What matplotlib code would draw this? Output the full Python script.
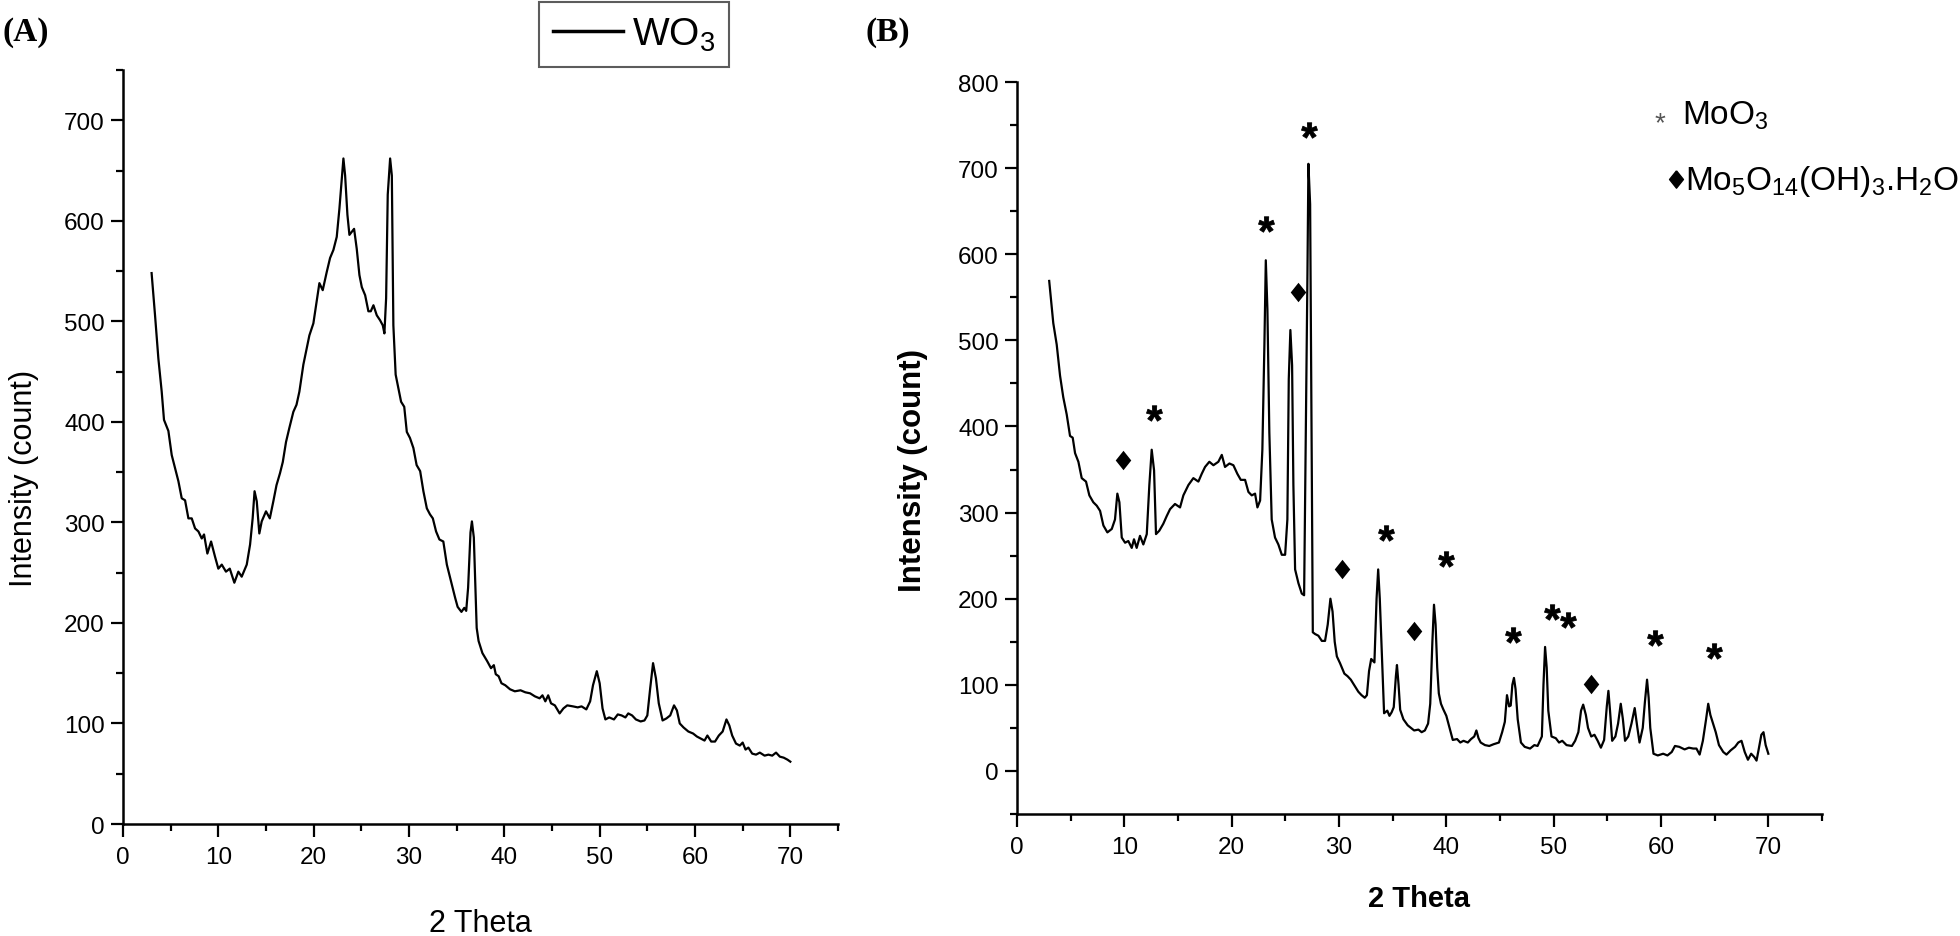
import numpy as np
import matplotlib
matplotlib.use("Agg")
import matplotlib.pyplot as plt
from matplotlib.ticker import MultipleLocator
from matplotlib.textpath import TextPath
from matplotlib.path import Path
from matplotlib.font_manager import FontProperties

plt.rcParams['font.family'] = ['Liberation Sans', 'DejaVu Sans']
plt.rcParams['mathtext.default'] = 'regular'

# (A) WO3 pattern
wo3_theta = [3.0, 3.36, 3.71, 4.06, 4.30, 4.76, 5.11, 5.46, 5.81, 6.16, 6.51, 6.86, 7.21, 7.56,
             7.91, 8.26, 8.50, 8.85, 9.24, 9.65, 10.0, 10.36, 10.8, 11.2, 11.68, 12.1, 12.45,
             12.98, 13.33, 13.6, 13.8, 14.03, 14.3, 14.55, 15.0, 15.4, 15.77, 16.1, 16.47, 16.76,
             17.1, 17.45, 17.87, 18.2, 18.5, 18.92, 19.27, 19.55, 19.97, 20.25, 20.6, 20.95,
             21.37, 21.72, 22.07, 22.42, 22.7, 22.95, 23.12, 23.3, 23.54, 23.75, 24.0, 24.24,
             24.52, 24.8, 25.05, 25.4, 25.74, 25.99, 26.27, 26.62, 26.97, 27.25, 27.42, 27.6,
             27.77, 28.02, 28.2, 28.36, 28.6, 28.89, 29.17, 29.5, 29.77, 30.1, 30.46, 30.8,
             31.17, 31.51, 31.87, 32.2, 32.5, 32.84, 33.19, 33.6, 33.97, 34.49, 34.84, 35.1,
             35.5, 35.8, 36.0, 36.2, 36.45, 36.6, 36.8, 36.95, 37.1, 37.3, 37.7, 38.2, 38.6,
             38.9, 39.1, 39.4, 39.7, 40.1, 40.6, 41.1, 41.7, 42.2, 42.7, 43.2, 43.7, 44.0, 44.3,
             44.6, 44.9, 45.3, 45.8, 46.2, 46.6, 47.2, 47.7, 48.1, 48.6, 49.0, 49.3, 49.7, 50.0,
             50.3, 50.6, 51.0, 51.5, 51.9, 52.3, 52.7, 53.0, 53.4, 53.8, 54.3, 54.7, 55.0, 55.3,
             55.6, 55.9, 56.2, 56.6, 57.0, 57.4, 57.8, 58.1, 58.4, 58.8, 59.3, 59.8, 60.2, 60.6,
             61.0, 61.3, 61.7, 62.1, 62.5, 62.9, 63.3, 63.6, 63.9, 64.3, 64.7, 65.0, 65.3, 65.6,
             66.0, 66.4, 66.8, 67.3, 67.7, 68.1, 68.5, 68.9, 69.3, 69.7, 70.0]
wo3_counts = [548, 506, 463, 430, 402, 391, 367, 354, 341, 324, 322, 304, 304, 294,
              291, 284, 288, 269, 281, 266, 254, 258, 251, 254, 240, 251, 246,
              258, 278, 304, 331, 321, 289, 301, 311, 304, 321, 337, 349, 360,
              380, 394, 410, 417, 430, 457, 473, 486, 498, 516, 538, 531,
              549, 563, 571, 584, 612, 642, 662, 645, 606, 586, 589, 592,
              572, 546, 534, 526, 510, 510, 516, 506, 501, 496, 488, 523,
              626, 662, 645, 496, 447, 433, 420, 415, 390, 384, 374, 357,
              351, 331, 314, 308, 304, 291, 283, 281, 258, 238, 225, 216,
              211, 215, 212, 235, 290, 301, 285, 240, 195, 182, 170, 162, 155,
              158, 149, 147, 140, 138, 134, 132, 133, 131, 130, 127, 125, 128, 122,
              128, 120, 118, 110, 115, 118, 117, 116, 117, 114, 122, 138, 152, 140,
              115, 104, 106, 104, 109, 108, 106, 110, 108, 104, 102, 103, 108, 135,
              160, 145, 120, 103, 105, 108, 118, 113, 100, 96, 92, 90, 87, 85,
              83, 88, 82, 82, 88, 92, 104, 98, 88, 80, 78, 81, 74, 76,
              70, 69, 71, 68, 69, 68, 71, 67, 66, 64, 62]

# (B) MoO3 pattern
moo3_theta = [3.0, 3.38, 3.70, 4.01, 4.31, 4.63, 4.94, 5.19, 5.41, 5.72, 6.03, 6.43, 6.74, 7.11,
              7.43, 7.74, 8.05, 8.42, 8.83, 9.13, 9.35, 9.54, 9.76, 10.07, 10.37, 10.69, 10.9,
              11.15, 11.46, 11.77, 12.09, 12.33, 12.55, 12.77, 12.95, 13.26, 13.63, 13.95, 14.26,
              14.72, 15.19, 15.5, 15.97, 16.43, 16.9, 17.21, 17.52, 17.92, 18.3, 18.76, 19.08,
              19.38, 19.79, 20.16, 20.53, 20.85, 21.25, 21.56, 21.87, 22.18, 22.4, 22.65, 22.86,
              23.05, 23.18, 23.33, 23.51, 23.73, 24.04, 24.35, 24.67, 24.98, 25.19, 25.32, 25.47,
              25.63, 25.75, 25.91, 26.22, 26.53, 26.75, 26.93, 27.06, 27.15, 27.31, 27.43, 27.56,
              27.77, 28.08, 28.4, 28.7, 28.95, 29.2, 29.4, 29.6, 29.8, 30.1, 30.5, 30.8, 31.1,
              31.5, 31.8, 32.1, 32.4, 32.6, 32.8, 33.0, 33.3, 33.5, 33.65, 33.8, 33.95, 34.2,
              34.5, 34.7, 34.9, 35.1, 35.3, 35.4, 35.55, 35.7, 36.0, 36.4, 36.7, 37.0, 37.4,
              37.7, 38.0, 38.3, 38.5, 38.7, 38.85, 39.0, 39.15, 39.3, 39.5, 39.7, 40.0, 40.3,
              40.6, 41.0, 41.3, 41.6, 42.0, 42.3, 42.6, 42.8, 43.0, 43.2, 43.6, 44.0, 44.4,
              44.9, 45.2, 45.45, 45.65, 45.85, 46.0, 46.15, 46.3, 46.45, 46.65, 46.95, 47.3,
              47.8, 48.2, 48.5, 48.9, 49.05, 49.2, 49.35, 49.5, 49.8, 50.2, 50.5, 50.8, 51.2,
              51.7, 52.0, 52.3, 52.55, 52.75, 53.0, 53.2, 53.5, 53.8, 54.1, 54.4, 54.7, 54.95,
              55.1, 55.25, 55.45, 55.75, 56.0, 56.25, 56.45, 56.65, 56.95, 57.25, 57.55, 57.8,
              58.0, 58.3, 58.5, 58.7, 58.85, 59.0, 59.3, 59.7, 60.2, 60.6, 61.0, 61.3, 61.7,
              62.2, 62.6, 63.0, 63.3, 63.6, 63.9, 64.2, 64.4, 64.6, 64.85, 65.1, 65.4, 65.8,
              66.1, 66.5, 66.9, 67.2, 67.5, 67.8, 68.1, 68.4, 68.7, 68.9, 69.1, 69.35, 69.55,
              69.75, 70.0]
moo3_counts = [569, 520, 495, 459, 434, 414, 389, 387, 369, 359, 340, 336, 320, 312,
               308, 302, 285, 277, 281, 292, 322, 312, 271, 265, 267, 259, 269,
               259, 273, 263, 275, 332, 373, 349, 275, 279, 287, 296, 304,
               310, 306, 320, 332, 340, 336, 345, 353, 359, 355, 359, 367,
               353, 357, 355, 345, 338, 338, 324, 320, 322, 306, 314, 373,
               495, 593, 536, 393, 292, 271, 263, 251, 251, 292, 455, 512,
               471, 332, 234, 218, 206, 204, 414, 577, 705, 658, 414, 161,
               159, 157, 151, 151, 170, 200, 185, 150, 133, 125, 113, 110, 106,
               98, 92, 88, 85, 88, 116, 130, 126, 200, 234, 200, 150, 67,
               70, 64, 68, 74, 110, 123, 100, 71, 60, 53, 50, 47, 48,
               45, 47, 55, 78, 150, 193, 170, 120, 90, 78, 72, 64, 50,
               36, 37, 33, 35, 33, 37, 40, 47, 38, 33, 30, 29, 31,
               33, 45, 57, 88, 75, 76, 100, 108, 95, 60, 33, 28,
               26, 30, 29, 40, 100, 144, 120, 70, 40, 38, 33, 35, 30,
               29, 35, 45, 70, 77, 65, 50, 40, 42, 35, 27, 36, 75,
               93, 70, 35, 40, 55, 78, 60, 35, 40, 55, 73, 50,
               33, 50, 80, 106, 85, 50, 20, 18, 20, 18, 22, 29, 28,
               25, 27, 26, 26, 19, 35, 60, 78, 65, 55, 45, 30, 22,
               19, 24, 28, 33, 35, 22, 13, 20, 16, 12, 25, 42, 45,
               30, 20]

# phase markers on (B)
star_theta = [12.8, 23.2, 27.2, 34.4, 40.0, 46.2, 49.8, 51.3, 59.4, 64.9]
star_counts = [416, 635, 744, 276, 246, 158, 185, 175, 154, 139]
diamond_theta = [9.9, 26.2, 30.3, 37.0, 53.5]
diamond_counts = [361, 556, 234, 163, 101]

W, H = 1960, 937
fig = plt.figure(figsize=(W / 100, H / 100), dpi=100)

# asterisk marker built from a font glyph, centred on its own ink
tp = TextPath((0, 0), '*', prop=FontProperties(family='Liberation Sans', weight='bold'))
v = tp.vertices.copy()
ink = tp.codes != Path.CLOSEPOLY
ctr = (v[ink].min(axis=0) + v[ink].max(axis=0)) / 2
v[~ink] = ctr
star_marker = Path(v - ctr, tp.codes)
diamond_marker = [(0, 1), (0.8, 0), (0, -1), (-0.8, 0), (0, 1)]


def style_axes(ax):
    for s in ['top', 'right']:
        ax.spines[s].set_visible(False)
    for s in ['left', 'bottom']:
        ax.spines[s].set_linewidth(1.8)
    ax.xaxis.set_major_locator(MultipleLocator(10))
    ax.xaxis.set_minor_locator(MultipleLocator(5))
    ax.tick_params(which='both', direction='out', width=1.6, labelsize=17.5)
    ax.tick_params(which='major', length=9)
    ax.tick_params(which='minor', length=5)
    ax.tick_params(axis='x', pad=7)
    ax.tick_params(axis='y', pad=4)


# ---- panel A
axA = fig.add_axes([123 / W, 1 - 825 / H, (838 - 123) / W, (825 - 71) / H])
lineA, = axA.plot(wo3_theta, wo3_counts, color='black', lw=1.6)
axA.set_xlim(0, 75)
axA.set_ylim(0, 750)
axA.yaxis.set_major_locator(MultipleLocator(100))
axA.yaxis.set_minor_locator(MultipleLocator(50))
style_axes(axA)
axA.set_xlabel('2 Theta', fontsize=22)
axA.set_ylabel('Intensity (count)', fontsize=22)
axA.xaxis.set_label_coords(0.5, -0.111)
axA.yaxis.set_label_coords(-0.118, 0.46)
leg = axA.legend([lineA], ['WO$_3$'], loc='upper left', bbox_to_anchor=(539 / W, 1 - 3 / H),
                 bbox_transform=fig.transFigure, fontsize=28, frameon=True, fancybox=False,
                 borderaxespad=0, borderpad=0.35, handlelength=1.8, handletextpad=0.25)
leg.get_frame().set_edgecolor('#333333')
leg.get_frame().set_linewidth(1.5)
leg.get_lines()[0].set_linewidth(2.5)

# ---- panel B
axB = fig.add_axes([1017 / W, 1 - 815 / H, (1822 - 1017) / W, (815 - 83) / H])
axB.plot(moo3_theta, moo3_counts, color='black', lw=1.6)
axB.plot(star_theta, star_counts, ls='none', marker=star_marker, ms=11.5,
         mfc='black', mec='black', mew=0.6)
axB.plot(diamond_theta, diamond_counts, ls='none', marker=diamond_marker, ms=14,
         mfc='black', mec='black', mew=0)
axB.set_xlim(0, 75)
axB.set_ylim(-50, 800)
axB.yaxis.set_major_locator(MultipleLocator(100))
axB.yaxis.set_minor_locator(MultipleLocator(50))
style_axes(axB)
axB.set_xlabel('2 Theta', fontsize=21, fontweight='bold')
axB.set_ylabel('Intensity (count)', fontsize=22.5, fontweight='bold')
axB.xaxis.set_label_coords(0.5, -0.096)
axB.yaxis.set_label_coords(-0.11, 0.47)

# phase key of panel B
fig.text(1660 / W, 1 - 131 / H, '*', fontsize=20, color='#555555', ha='center', va='baseline')
fig.text(1682 / W, 1 - 125 / H, 'MoO$_3$', fontsize=24, va='baseline')
axB.plot([1676 / W], [1 - 180 / H], marker=diamond_marker, ms=12.5, color='black',
         transform=fig.transFigure, clip_on=False)
fig.text(1685 / W, 1 - 190 / H, 'Mo$_5$O$_{14}$(OH)$_3$.H$_2$O', fontsize=24, va='baseline')

# panel letters
fig.text(3 / W, 1 - 33 / H, '(A)', fontsize=24, fontweight='bold',
         family='Liberation Serif', va='center')
fig.text(865 / W, 1 - 33 / H, '(B)', fontsize=24, fontweight='bold',
         family='Liberation Serif', va='center')

fig.savefig('out.png', dpi=100)
